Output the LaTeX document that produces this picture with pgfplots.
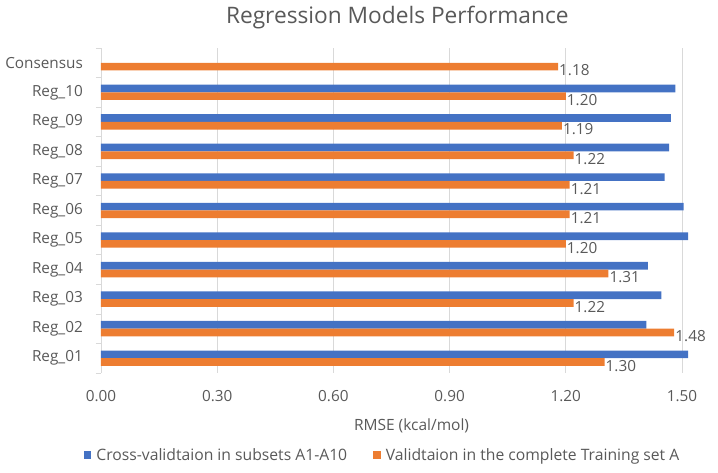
\documentclass[border=0pt]{standalone}
\usepackage{pgfplots}
\pgfplotsset{compat=1.18}
\usepackage{fontspec}
\setmainfont{Open Sans}
\definecolor{cblue}{HTML}{4472C4}
\definecolor{corange}{HTML}{ED7D31}
\definecolor{ctext}{HTML}{595959}
\definecolor{cgrid}{HTML}{D9D9D9}
\begin{document}
\begin{tikzpicture}
\useasboundingbox (-101pt,-100pt) rectangle (617pt,373pt);
\begin{axis}[
  at={(0pt,0pt)}, anchor=south west,
  scale only axis,
  width=592.6pt, height=325pt,
  xbar, bar width=0.26,
  xmin=0, xmax=1.53,
  ymin=-0.5, ymax=10.5,
  xtick={0,0.3,0.6,0.9,1.2,1.5},
  xticklabel={\pgfmathprintnumber[fixed,zerofill,precision=2]{\tick}},
  /pgf/number format/assume math mode=true,
  ytick={0,...,10},
  yticklabels={Reg\_01,Reg\_02,Reg\_03,Reg\_04,Reg\_05,Reg\_06,Reg\_07,Reg\_08,Reg\_09,Reg\_10,Consensus},
  minor ytick={-0.5,0.5,...,10.5},
  ytick pos=left,
  tick align=outside,
  major tick length=0pt,
  minor tick length=5pt,
  minor y tick style={cgrid, line width=0.8pt},
  xmajorgrids,
  major grid style={cgrid, line width=0.8pt},
  axis line style={draw=none},
  ticklabel style={font=\fontsize{15.3}{18}\selectfont, text=ctext},
  xticklabel style={anchor=base, yshift=-29pt, inner sep=0pt},
  yticklabel style={anchor=east, xshift=-18pt, inner sep=0pt},
  xlabel={RMSE (kcal/mol)},
  xlabel style={at={(rel axis cs:0.524,0)}, anchor=center, yshift=-53pt, font=\fontsize{15.5}{18}\selectfont, text=ctext},
  title={Regression Models Performance},
  title style={at={(rel axis cs:0.5,1)}, anchor=center, yshift=24.5pt, font=\fontsize{22.7}{27}\selectfont, text=ctext},
  legend columns=2,
  legend style={at={(rel axis cs:0.475,0)}, anchor=center, yshift=-82pt, draw=none, fill=none,
    font=\fontsize{15.7}{18}\selectfont, text=ctext,
    /tikz/every odd column/.append style={column sep=3pt},
    /tikz/every even column/.append style={column sep=24pt}},
  legend image code/.code={\fill[#1] (0pt,-3.85pt) rectangle (7.7pt,3.85pt);},
]
\addplot[fill=cblue, draw=none, bar shift=0.13] coordinates {
  (1.516,0) (1.408,1) (1.447,2) (1.412,3) (1.516,4) (1.504,5)
  (1.455,6) (1.467,7) (1.471,8) (1.483,9)
};
\addlegendentry{Cross-validtaion in subsets A1-A10}
\addplot[fill=corange, draw=none, bar shift=-0.13,
  point meta=x,
  nodes near coords={\pgfmathprintnumber[fixed,zerofill,precision=2]{\pgfplotspointmeta}},
  every node near coord/.append style={anchor=west, yshift=-3.8pt, xshift=0pt, inner sep=1pt,
    font=\fontsize{15.3}{18}\selectfont, text=ctext, /pgf/number format/assume math mode=true},
] coordinates {
  (1.30,0) (1.48,1) (1.22,2) (1.31,3) (1.20,4) (1.21,5)
  (1.21,6) (1.22,7) (1.19,8) (1.20,9) (1.18,10)
};
\addlegendentry{Validtaion in the complete Training set A}
\end{axis}
\end{tikzpicture}
\end{document}
